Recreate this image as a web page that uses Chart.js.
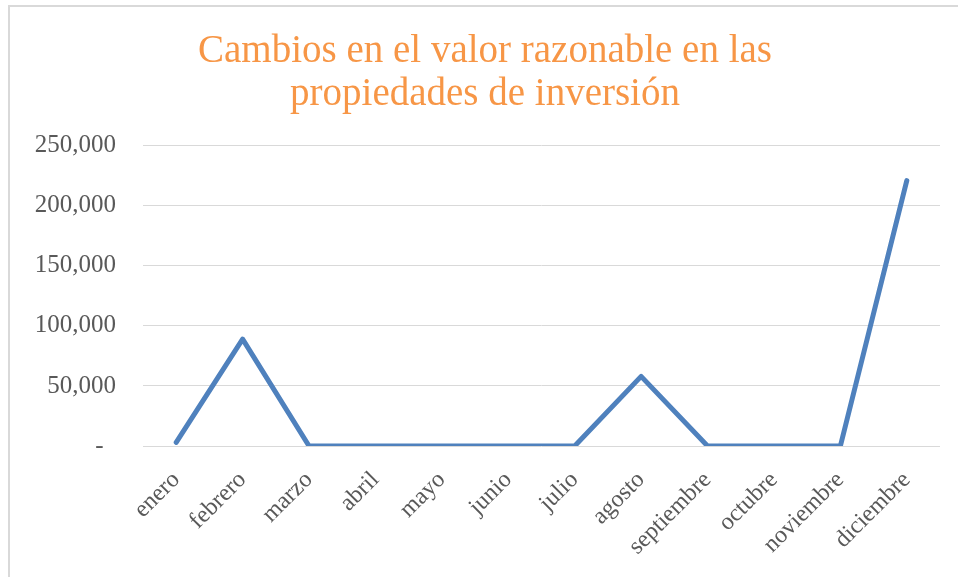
<!DOCTYPE html>
<html>
<head>
<meta charset="utf-8">
<script src="https://cdn.jsdelivr.net/npm/chart.js@4/dist/chart.umd.min.js"></script>
<style>
  html, body { margin: 0; padding: 0; background: #fff; }
  .marco {
    position: absolute; left: 8px; top: 5px; width: 980px; height: 600px;
    border-left: 2px solid #d9d9d9; border-top: 2px solid #d9d9d9;
  }
  #grafico { position: absolute; left: 0; top: 0; }
</style>
</head>
<body>
<div class="marco"></div>
<canvas id="grafico" width="958" height="577"></canvas>
<script>
const meses = ['enero', 'febrero', 'marzo', 'abril', 'mayo', 'junio', 'julio',
  'agosto', 'septiembre', 'octubre', 'noviembre', 'diciembre'];
const valores = [3000, 89000, 0, 0, 0, 0, 0, 58000, 0, 0, 0, 221000];
const tituloLineas = ['Cambios en el valor razonable en las', 'propiedades de inversión'];
const ejeMin = 0;
const ejeMax = 250000;
const ejePaso = 50000;

const fuente = "'Liberation Serif', 'DejaVu Serif', serif";

new Chart(document.getElementById('grafico').getContext('2d'), {
  type: 'line',
  data: {
    labels: meses,
    datasets: [{
      data: valores,
      borderColor: '#4F81BD',
      borderWidth: 5,
      pointRadius: 0,
      tension: 0,
      borderCapStyle: 'round',
      borderJoinStyle: 'round'
    }]
  },
  options: {
    responsive: false,
    animation: false,
    devicePixelRatio: 1,
    layout: { padding: { left: 30, right: 18, top: 0, bottom: 0 } },
    plugins: {
      legend: { display: false },
      tooltip: { enabled: false },
      title: {
        display: true,
        text: tituloLineas,
        color: '#F79646',
        font: { family: fuente, size: 39, weight: 'normal', lineHeight: 1.1 },
        padding: { top: 30, bottom: 30 }
      }
    },
    scales: {
      x: {
        offset: true,
        grid: { display: false, drawTicks: false },
        border: { display: false },
        ticks: {
          color: '#595959',
          font: { family: fuente, size: 24 },
          maxRotation: 45,
          minRotation: 45,
          padding: 20
        },
        afterFit: (s) => { s.height = 131; }
      },
      y: {
        min: ejeMin,
        max: ejeMax,
        grid: { color: '#d9d9d9', lineWidth: 1, drawTicks: false },
        border: { display: false },
        ticks: {
          stepSize: ejePaso,
          color: '#595959',
          font: { family: fuente, size: 25 },
          padding: 27,
          callback: (v) => v === 0 ? '-  ' : v.toLocaleString('en-US')
        },
        afterFit: (s) => { s.width = 113; }
      }
    }
  }
});
</script>
</body>
</html>
